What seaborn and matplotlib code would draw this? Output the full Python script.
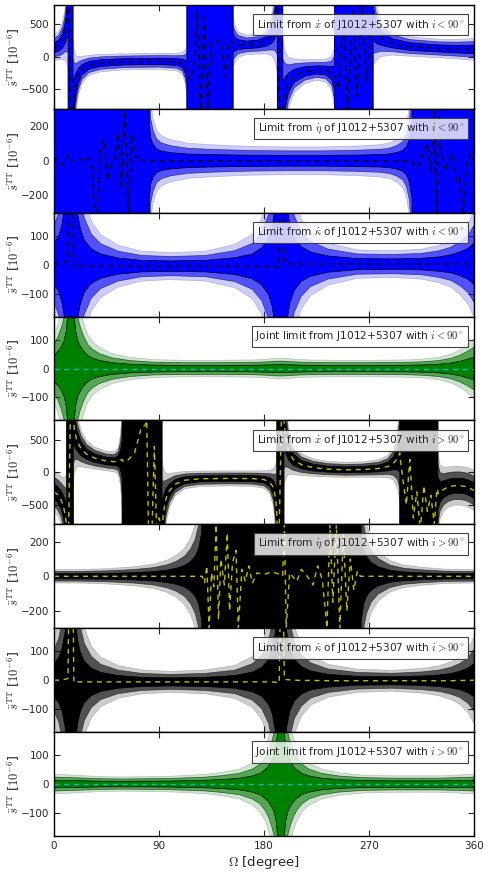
"""
Bounds on the anisotropy parameter s_TT versus Omega, from the timing of
J1012+5307: one panel per observable, for i<90 and i>90 deg.
"""

import numpy as np
import matplotlib
matplotlib.use("Agg")
import matplotlib.pyplot as plt
import seaborn as sns

# ── Data ──────────────────────────────────────────────────────────────────────
# Each panel: node angles (deg), central value and 1-sigma width (1e-6).
# BLOCK marks angles where the limit is wider than the plotted range.

BLOCK = 1e4

# x-dot, i < 90
OM_XDOT_LO = [0, 4, 7, 9, 10.5, 11.5, 12.1,
              12.2, 13, 14, 15, 16.2,
              16.3, 17.5, 19, 21, 24, 30, 40, 60, 90, 105, 110, 112.5, 113.9,
              114, 117, 120, 123, 126, 129, 132, 135, 138, 141, 144, 147, 150, 151.5, 153.4,
              153.5, 155, 158, 165, 175, 182, 186, 188.5, 190, 191.4,
              191.5, 193.5, 196,
              196.1, 198, 201, 206, 215, 225, 233, 238, 240.4,
              240.5, 244, 248, 252, 256, 260, 264, 268, 272, 273.4,
              273.5, 276, 280, 290, 305, 330, 345, 360]
CEN_XDOT_LO = [140, 175, 240, 330, 450, 600, 750,
               900, 900, -900, -900, -900,
               -800, -560, -400, -290, -200, -130, -95, -75, -68, -78, -100, -150, -220,
               -250, -350, -150, 700, -900, 600, -800, 220, 200, 260, 180, -300, 200, 250, 220,
               220, 200, 190, 185, 200, 240, 310, 420, 560, 780,
               900, -900, -900,
               -800, -560, -400, -290, -225, -200, -210, -250, -320,
               -300, -500, 600, -800, 700, -600, 800, -400, 500, 450,
               520, 380, 290, 210, 160, 130, 120, 115]
SIG_XDOT_LO = ([75, 85, 110, 140, 200, 280, 380]
               + [BLOCK] * 5
               + [420, 250, 160, 115, 80, 60, 52, 48, 48, 52, 65, 100, 150]
               + [BLOCK] * 15
               + [150, 110, 75, 58, 60, 75, 110, 170, 260, 400]
               + [BLOCK] * 3
               + [420, 250, 150, 100, 72, 62, 68, 100, 180]
               + [BLOCK] * 10
               + [250, 170, 110, 70, 58, 55, 58, 65])

# eta-dot, i < 90
OM_ETA_LO = [0, 3, 6, 9, 12, 15, 18, 21, 24, 27, 30, 33, 35, 37, 40, 43, 46, 49,
             52, 55, 58, 61, 64, 67, 70, 73, 76, 79, 81.5,
             81.6, 83, 85, 88, 92, 100, 115, 140, 170, 200, 230, 260, 280, 288,
             294, 299, 302, 304.5, 306.9,
             307, 310, 313, 316, 320, 323, 326, 328, 330, 332, 335, 339, 342,
             345, 348, 351, 354, 357, 360]
CEN_ETA_LO = ([0, 10, -25, -10, 35, 0, 5, 0, 10, -5, 15, -40, -320, -320, 60,
               124, -114, -20, 0, 160, -160, 320, -320, 150, 20, 30, 0, 0, 0]
              + [0] * 19
              + [0, -40, -20, 30, 100, -60, 300, -320, 250, 60, -60, 10, 40,
                 -120, -100, -320, 0, 40, 0])
SIG_ETA_LO = ([BLOCK] * 29
              + [220, 130, 95, 68, 56, 47, 39, 35, 32, 31, 31, 33, 36, 40,
                 48, 60, 80, 120, 220]
              + [BLOCK] * 19)

# kappa-dot (same node angles for both inclinations)
OM_KDOT = [0, 4, 7, 9.5, 11, 12, 13, 14.5, 16, 17, 18, 20, 22.5, 26, 32,
           40, 55, 75, 100, 130, 155, 170, 178, 184, 187, 189.5, 191.5, 193,
           194.5, 196, 197.5, 199.5, 202, 206, 212, 220, 235, 260, 290, 315,
           330, 340, 348, 355, 360]
CEN_KDOT_LO = [3, 3, 4, 10, 12, 14, 400, 400, 400, -8, -7, -6, -5, -5, -5,
               -5, -5, -5, -5, -5, -5, -6, -6, -6, -6, -7, -8, -8,
               400, 400, 9, 5, 3, 2, 2, 2, 2, 2, 2, 2,
               2, 3, 3, 3, 3]
SIG_KDOT_LO = [72, 96, 138, 204, 294, 408, 684, BLOCK, 684, 408, 294, 186, 132, 90, 60,
               42, 28, 20, 18, 20, 29, 43, 64, 98, 138, 204, 342, 684,
               BLOCK, 684, 342, 204, 138, 90, 60, 42, 28, 19, 18, 20,
               25, 31, 41, 54, 72]
CEN_KDOT_HI = [0, 0, 1, 3, 5, 6, 400, 400, 400, -8, -7, -6, -6, -6, -6,
               -6, -6, -6, -6, -6, -6, -6, -6, -6, -6, -7, -8, -10,
               400, 400, 3, 2, 1, 0, -1, -1, -2, -2, -2, -2,
               -2, -2, -1, -1, 0]
SIG_KDOT_HI = [58, 78, 110, 165, 235, 330, 550, BLOCK, 550, 330, 235, 150, 104, 72, 48,
               33, 22, 16, 14, 16, 22, 34, 50, 78, 110, 165, 275, 550,
               BLOCK, 550, 275, 165, 110, 72, 48, 33, 22, 15.5, 14, 16.5,
               20, 25, 32, 43, 58]

# joint limits (centred on zero)
OM_JOINT_LO = [0, 3.5, 6.5, 8.5, 10.5, 12, 13, 14.5, 16, 17, 18.5, 20.5, 22.5,
               25.5, 29, 33, 39, 50, 65, 85, 110, 140, 170, 182, 188, 194, 200,
               206, 218, 240, 270, 300, 315, 330, 340, 348, 355, 360]
SIG_JOINT_LO = [44, 60, 78, 95, 130, 200, 400, BLOCK, 400, 200, 130, 95, 78,
                60, 45, 36, 28, 20, 15, 12, 11, 11, 11.5, 12.5, 13.5, 14, 13.5,
                12.5, 11.5, 11, 11, 11.5, 12.5, 15, 19, 25, 33, 40]
OM_JOINT_HI = [0, 16, 40, 60, 100, 130, 145, 159, 170, 176.5, 180.5, 183.5,
               186.5, 188.5, 190.5, 192, 193, 194.5, 196, 197, 198.5, 200.5,
               202.5, 205.5, 208.5, 212.5, 218.5, 229.5, 244.5, 264.5, 290, 330, 360]
SIG_JOINT_HI = [13, 12, 10, 9.5, 10.5, 13, 16, 20, 28, 37, 48, 60,
                78, 95, 130, 200, 400, BLOCK, 400, 200, 130, 95,
                78, 60, 48, 37, 28, 20, 15, 12, 11, 11, 13]
CEN_JOINT = 0.0

# x-dot, i > 90
OM_XDOT_HI = [0, 3, 6, 8, 9.5, 10.5, 10.9,
              11, 12.5, 14, 16.4,
              16.5, 17.5, 19.5, 23, 28, 35, 45, 52, 55, 57, 58.4,
              58.5, 61, 64, 67, 69, 72, 75, 78, 79.5, 81, 84, 86, 88, 90, 92.5,
              92.6, 94, 96, 99, 104, 112, 125, 150, 170, 180, 185, 188, 190, 191,
              191.2, 193, 195, 197,
              197.1, 198.5, 201, 205, 212, 222, 235, 250, 265, 278, 286, 291, 294.5, 296.4,
              296.5, 299, 302, 305, 308, 311, 314, 317, 320, 323, 326, 328, 329,
              329.1, 331, 334, 338, 343, 348, 352, 356, 360]
CEN_XDOT_HI = [-300, -340, -420, -520, -640, -780, -900,
               -900, -900, 900, 900,
               850, 650, 500, 370, 280, 220, 175, 165, 175, 190, 200,
               180, 160, 200, 260, 300, 500, 700, 720, 800, -900, -900, 400, -900, -700, -850,
               -850, -600, -400, -280, -180, -120, -98, -92, -95, -110, -150, -230, -400, -650,
               -900, -900, 900, 900,
               800, 550, 330, 200, 120, 75, 50, 40, 45, 60, 90, 140, 220, 300,
               250, -100, -500, 200, -700, -300, -900, -200, -600, -350, -800, -300, -250,
               -330, -300, -260, -225, -205, -205, -215, -240, -280]
SIG_XDOT_HI = ([120, 125, 140, 170, 220, 290, 380]
               + [BLOCK] * 4
               + [400, 250, 160, 110, 80, 65, 58, 60, 80, 150, 300]
               + [BLOCK] * 15
               + [400, 250, 150, 100, 70, 52, 46, 45, 46, 52, 70, 110, 200, 350]
               + [BLOCK] * 4
               + [400, 250, 140, 90, 65, 52, 46, 45, 46, 52, 65, 100, 180, 300]
               + [BLOCK] * 13
               + [250, 160, 130, 120, 115, 115, 115, 118, 120])

# eta-dot, i > 90
OM_ETA_HI = [0, 20, 45, 68, 85, 97, 105, 112, 117, 121, 124, 126.5, 126.9,
             127, 129, 131, 133, 135, 137, 139, 141, 143, 146, 148.5, 150.5,
             153, 156, 158, 161, 164, 167, 170, 174, 180, 186, 192, 196, 197.5,
             199, 202, 208, 212, 216, 222, 226, 230, 234, 236.5, 239, 242, 245,
             248, 251, 254, 257, 260, 262.6,
             262.7, 263.5, 265.5, 268, 272, 278, 288, 300, 316, 335, 360]
CEN_ETA_HI = ([0] * 13
              + [0, -40, 60, -300, 20, -60, 300, -250, 100, -50, 250, -200,
                 80, 150, -300, 40, -30, 60, -40, 20, 10, 25, 15, 0, 300,
                 -300, 20, -30, 40, 10, -50, 60, -20, -300, 300, -150, 300,
                 -300, 250, -200, 100, -80, 30, 0]
              + [0] * 11)
SIG_ETA_HI = ([15, 15, 17, 21, 27, 36, 47, 63, 85, 115, 160, 250, 400]
              + [BLOCK] * 44
              + [400, 250, 160, 115, 80, 55, 35, 25, 20, 16, 15])

X_TICKS = [0, 90, 180, 270, 360]

# ── Style ─────────────────────────────────────────────────────────────────────

sns.set_style("ticks")
plt.rcParams.update({
    "font.family": ["DejaVu Sans"],
    "mathtext.fontset": "cm",
    "xtick.direction": "in",
    "ytick.direction": "in",
    "xtick.top": True,
    "ytick.right": True,
    "axes.linewidth": 1.0,
})

# band width in sigma and opacity: outer, middle, inner
BANDS = [(2.6, 0.2), (1.85, 0.6), (1.0, 1.0)]
DASH = (0, (3.6, 3.4))

LO = r"$i<90^\circ$"
HI = r"$i>90^\circ$"
panels = [
    (OM_XDOT_LO, CEN_XDOT_LO, SIG_XDOT_LO, 800, [-500, 0, 500], "#0000ff", "k",
     r"Limit from $\dot{x}$ of J1012+5307 with " + LO),
    (OM_ETA_LO, CEN_ETA_LO, SIG_ETA_LO, 300, [-200, 0, 200], "#0000ff", "k",
     r"Limit from $\dot{\eta}$ of J1012+5307 with " + LO),
    (OM_KDOT, CEN_KDOT_LO, SIG_KDOT_LO, 180, [-100, 0, 100], "#0000ff", "k",
     r"Limit from $\dot{\kappa}$ of J1012+5307 with " + LO),
    (OM_JOINT_LO, CEN_JOINT, SIG_JOINT_LO, 180, [-100, 0, 100], "#008000", "#00bfbf",
     r"Joint limit from J1012+5307 with " + LO),
    (OM_XDOT_HI, CEN_XDOT_HI, SIG_XDOT_HI, 800, [-500, 0, 500], "#000000", "#bfbf00",
     r"Limit from $\dot{x}$ of J1012+5307 with " + HI),
    (OM_ETA_HI, CEN_ETA_HI, SIG_ETA_HI, 300, [-200, 0, 200], "#000000", "#bfbf00",
     r"Limit from $\dot{\eta}$ of J1012+5307 with " + HI),
    (OM_KDOT, CEN_KDOT_HI, SIG_KDOT_HI, 180, [-100, 0, 100], "#000000", "#bfbf00",
     r"Limit from $\dot{\kappa}$ of J1012+5307 with " + HI),
    (OM_JOINT_HI, CEN_JOINT, SIG_JOINT_HI, 180, [-100, 0, 100], "#008000", "#00bfbf",
     r"Joint limit from J1012+5307 with " + HI),
]

# ── Figure ────────────────────────────────────────────────────────────────────

fig, axes = plt.subplots(len(panels), 1, sharex=True, figsize=(4.91, 8.74), dpi=100)
fig.subplots_adjust(left=0.11, right=0.9654, top=0.9943, bottom=0.0435, hspace=0)

for ax, (om, cen, sig, lim, yticks, colour, line_colour, label) in zip(axes, panels):
    om = np.asarray(om, dtype=float)
    sig = np.asarray(sig, dtype=float)
    cen = np.asarray(cen, dtype=float)
    if cen.ndim == 0:
        cen = np.full_like(om, float(cen))
    assert len(om) == len(cen) == len(sig), (label, len(om), len(cen), len(sig))

    for k, alpha in BANDS:
        ax.fill_between(om, cen - k * sig, cen + k * sig, facecolor=colour,
                        edgecolor="k", linewidth=0.5, alpha=alpha)
    sns.lineplot(x=om, y=cen, ax=ax, color=line_colour, linewidth=1.0,
                 linestyle=DASH, estimator=None, sort=False)

    ax.set_ylim(-lim, lim)
    ax.set_yticks(yticks)
    ax.set_xlim(0, 360)
    ax.set_xticks(X_TICKS)
    ax.tick_params(labelsize=7.5, length=4, width=0.8)
    ax.set_ylabel(r"$\bar{s}^{\rm TT}$ [$10^{-6}$]", fontsize=9)
    ax.yaxis.set_label_coords(-0.075, 0.5)
    ax.text(0.977, 0.81, label, transform=ax.transAxes, ha="right", va="center",
            fontsize=7.6, zorder=5,
            bbox=dict(boxstyle="square,pad=0.35", facecolor=(1, 1, 1, 0.8),
                      edgecolor="0.25", linewidth=0.8))
    for s in ax.spines.values():
        s.set_color("k")

axes[-1].set_xlabel(r"$\Omega$ [degree]", fontsize=9.5, labelpad=2)

fig.savefig("out.png", dpi=100)
plt.close(fig)
